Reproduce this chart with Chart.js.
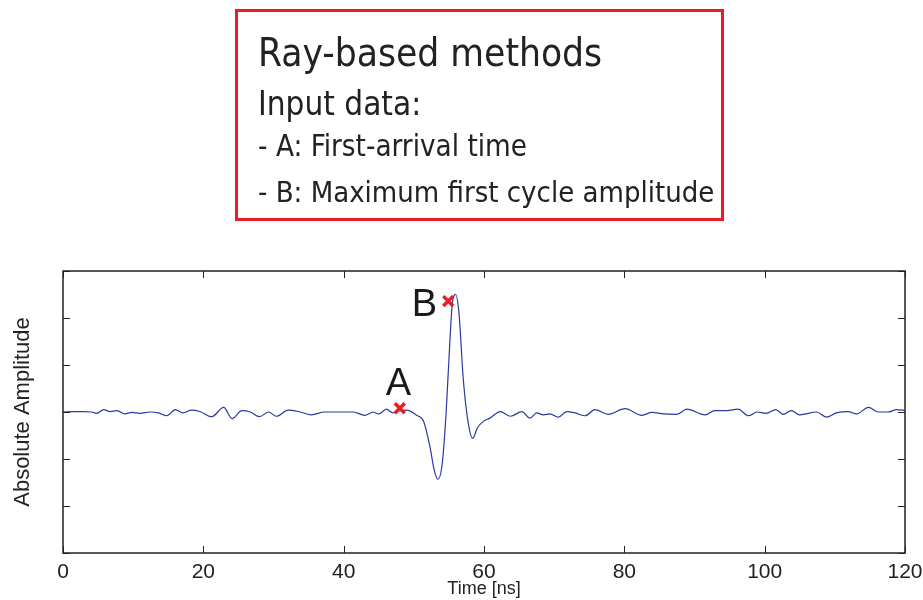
<!DOCTYPE html>
<html lang="en">
<head>
    <meta charset="UTF-8">
    <title>Ray-based methods - trace</title>
    <script src="https://cdn.jsdelivr.net/npm/chart.js"></script>
    <style>
        html, body { margin: 0; padding: 0; background: #fff; }
        #wrap { position: relative; width: 923px; height: 600px; overflow: hidden; }
        #traceChart { position: absolute; left: 0; top: 0; }
        #infoBox {
            position: absolute; left: 235px; top: 9px; width: 483px; height: 206px;
            border: 3px solid #ed1c24;
            font-family: 'DejaVu Sans Condensed', 'DejaVu Sans', sans-serif;
            font-stretch: condensed; color: #222;
        }
        #infoBox div { position: absolute; left: 20px; line-height: 1; white-space: nowrap; }
    </style>
</head>
<body>
<div id="wrap">
    <canvas id="traceChart" width="923" height="600"></canvas>
    <div id="infoBox">
        <div style="top: 22px; font-size: 38.5px;">Ray-based methods</div>
        <div style="top: 75px; font-size: 33px;">Input data:</div>
        <div style="top: 120px; font-size: 29.3px;">- A: First-arrival time</div>
        <div style="top: 166px; font-size: 29px;">- B: Maximum first cycle amplitude</div>
    </div>
</div>

<script>
// trace (time in ns, amplitude in tick units)
const times = [0, 1.5, 2.9, 4.1, 4.8, 5.8, 6.7, 7.7, 8.8, 9.8, 11.0, 12.4, 13.6, 14.8, 16.0, 17.1, 18.3, 19.5,
    21.2, 22.9, 24.1, 25.5, 26.7, 28.0, 29.3, 30.4, 32.1, 33.8, 35.4, 37.3, 40.2, 41.4, 43.0, 44.2, 45.0, 46.1,
    47.0, 48.0, 49.0, 50.4, 51.4, 52.3, 52.9, 53.4, 54.0, 54.6, 55.05, 55.5, 55.96, 56.43, 57.05, 57.76, 58.38,
    59.05, 59.9, 60.85, 62.3, 63.8, 65.4, 66.55, 67.5, 68.45, 69.4, 70.6, 71.8, 73.0, 74.4, 75.8, 77.7, 80.1,
    82.5, 83.9, 85.6, 87.5, 88.9, 91.5, 92.9, 94.6, 96.2, 97.7, 98.9, 100.2, 101.6, 102.65, 103.8, 105.0, 107.4,
    108.8, 110.2, 111.9, 113.1, 114.8, 116.2, 117.6, 118.8, 120];
const amplitude = [0, 0.01, 0.01, 0, -0.03, 0.05, 0.01, 0.03, -0.04, -0.01, -0.03, 0, -0.02, -0.08, 0.05, -0.02, 0.04, 0.01,
    -0.10, 0.10, -0.14, 0.03, 0, -0.10, 0, -0.09, 0.04, 0, -0.06, 0, 0, 0, -0.07, 0, -0.04, 0.06,
    -0.02, 0.03, 0.04, -0.07, -0.2, -0.74, -1.23, -1.43, -1.16, -0.02, 1.26, 2.33, 2.5, 2.11, 0.69, -0.24, -0.56,
    -0.34, -0.2, -0.13, 0.01, -0.09, 0.01, -0.13, -0.02, -0.06, -0.04, -0.11, 0.01, -0.02, -0.08, 0.05, -0.05, 0.07,
    -0.07, -0.01, -0.04, -0.05, 0.06, -0.06, 0.03, 0.03, 0.06, -0.08, 0, -0.03, 0.05, -0.05, 0.03, -0.06, 0,
    -0.11, -0.02, 0.01, -0.04, 0.10, 0, 0, 0.05, 0.03];

// picks A and B
const pickNames = ['A', 'B'];
const pickTimes = [48.0, 54.9];
const pickAmps = [0.08, 2.36];
// where the letters sit (baseline)
const labelTimes = [47.8, 51.5];
const labelAmps = [0.37, 2.05];

const xTicks = [0, 20, 40, 60, 80, 100, 120];
const yTicks = [-3, -2, -1, 0, 1, 2, 3];

const frameColor = '#222';

// frame, inward tick marks and the A / B letters
const framePlugin = {
    id: 'frame',
    afterDatasetsDraw(chart) {
        const {ctx, chartArea: a, scales: {x, y}} = chart;
        ctx.save();
        ctx.strokeStyle = frameColor;
        ctx.lineWidth = 1.5;
        ctx.strokeRect(a.left, a.top, a.right - a.left, a.bottom - a.top);
        ctx.lineWidth = 1;
        ctx.beginPath();
        xTicks.forEach(v => {
            const px = Math.round(x.getPixelForValue(v)) + 0.5;
            ctx.moveTo(px, a.bottom); ctx.lineTo(px, a.bottom - 7);
            ctx.moveTo(px, a.top); ctx.lineTo(px, a.top + 7);
        });
        yTicks.forEach(v => {
            const py = Math.round(y.getPixelForValue(v)) + 0.5;
            ctx.moveTo(a.left, py); ctx.lineTo(a.left + 7, py);
            ctx.moveTo(a.right, py); ctx.lineTo(a.right - 7, py);
        });
        ctx.stroke();

        ctx.fillStyle = '#1a1a1a';
        ctx.font = '38px "Liberation Sans", Arial, sans-serif';
        ctx.textAlign = 'center';
        ctx.textBaseline = 'alphabetic';
        pickNames.forEach((n, i) => {
            ctx.fillText(n, x.getPixelForValue(labelTimes[i]), y.getPixelForValue(labelAmps[i]));
        });
        ctx.restore();
    }
};

const ctx = document.getElementById('traceChart').getContext('2d');
new Chart(ctx, {
    type: 'line',
    data: {
        datasets: [{
            label: 'Trace',
            data: times.map((t, i) => ({x: t, y: amplitude[i]})),
            borderColor: '#2a3a9e',
            borderWidth: 1.2,
            pointRadius: 0,
            cubicInterpolationMode: 'monotone',
            order: 2
        }, {
            type: 'scatter',
            label: 'Picks',
            data: pickTimes.map((t, i) => ({x: t, y: pickAmps[i]})),
            pointStyle: 'crossRot',
            pointRadius: 7,
            borderWidth: 3.5,
            borderColor: '#ed1c24',
            order: 1
        }]
    },
    options: {
        responsive: false,
        animation: false,
        layout: {padding: {top: 271, right: 18, left: 10, bottom: 0}},
        scales: {
            x: {
                type: 'linear',
                min: 0,
                max: 120,
                afterBuildTicks: s => { s.ticks = xTicks.map(v => ({value: v})); },
                afterFit: s => { s.height = 47; s.paddingLeft = 0; s.paddingRight = 0; },
                grid: {display: false, drawTicks: false},
                border: {display: false},
                ticks: {
                    color: '#222',
                    padding: 7,
                    font: {family: '"Liberation Sans", Arial', size: 21}
                },
                title: {
                    display: true,
                    text: 'Time [ns]',
                    color: '#222',
                    padding: {top: 0, bottom: 0},
                    font: {family: '"Liberation Sans", Arial', size: 18}
                }
            },
            y: {
                min: -3,
                max: 3,
                afterBuildTicks: s => { s.ticks = yTicks.map(v => ({value: v})); },
                afterFit: s => { s.width = 53; },
                grid: {display: false, drawTicks: false},
                border: {display: false},
                ticks: {display: false},
                title: {
                    display: true,
                    text: 'Absolute Amplitude',
                    color: '#222',
                    padding: {top: 0, bottom: 0},
                    font: {family: '"Liberation Sans", Arial', size: 22}
                }
            }
        },
        plugins: {
            legend: {display: false},
            tooltip: {enabled: false}
        }
    },
    plugins: [framePlugin]
});
</script>

</body>
</html>
